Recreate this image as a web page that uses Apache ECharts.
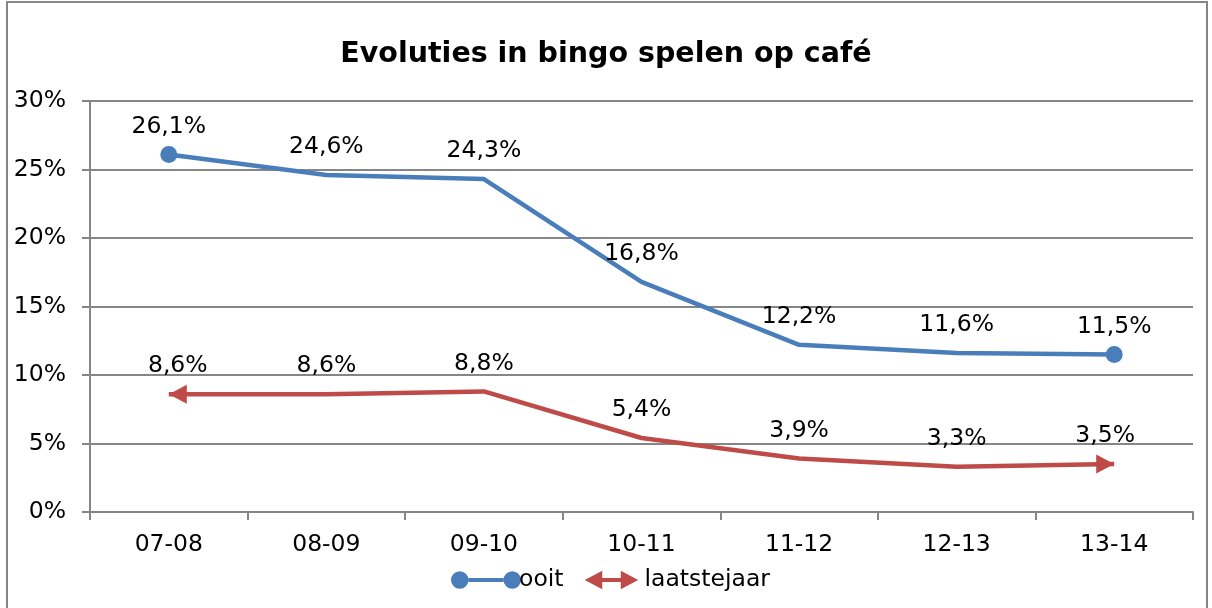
<!DOCTYPE html>
<html>
<head>
<meta charset="utf-8">
<script src="https://cdn.jsdelivr.net/npm/echarts@6/dist/echarts.min.js"></script>
<style>
html,body{margin:0;padding:0;background:#fff;}
#chart{width:1212px;height:608px;}
</style>
</head>
<body>
<div id="chart"></div>
<script>
const titleText = 'Evoluties in bingo spelen op café';
const categories = ['07-08','08-09','09-10','10-11','11-12','12-13','13-14'];
const ooit = [26.1, 24.6, 24.3, 16.8, 12.2, 11.6, 11.5];
const laatstejaar = [8.6, 8.6, 8.8, 5.4, 3.9, 3.3, 3.5];
const seriesNames = ['ooit', 'laatstejaar'];
const yTicks = {min: 0, max: 30, interval: 5};

const FONT = '"DejaVu Sans", Verdana, sans-serif';
const BLUE = '#4a7ebb';
const RED = '#be4b48';
const GRAY = '#868686';
const FS = 23.5;
const fmt = v => String(v).replace('.', ',') + '%';

const LBL_DIST = 16;
const last = categories.length - 1;

function blueData() {
  return ooit.map((v, i) => {
    const end = (i === 0 || i === last);
    return {
      value: v,
      symbol: 'circle',
      symbolSize: end ? 17 : 0,
      label: {distance: end ? LBL_DIST - 8.5 : LBL_DIST}
    };
  });
}
const leftArrow = 'path://M0,5 L10,0 L10,10 Z';
const rightArrow = 'path://M10,5 L0,0 L0,10 Z';
function redData() {
  return laatstejaar.map((v, i) => {
    if (i === 0) return {value: v, symbol: leftArrow, symbolSize: [18, 19], symbolOffset: [9, 0], label: {distance: LBL_DIST - 9.5}};
    if (i === last) return {value: v, symbol: rightArrow, symbolSize: [18, 19], symbolOffset: [-9, 0], label: {distance: LBL_DIST - 9.5}};
    return {value: v, symbol: 'circle', symbolSize: 0, label: {distance: LBL_DIST}};
  });
}

const blueIcon = 'path://M0,9 a8.5,8.5 0 1,1 17,0 a8.5,8.5 0 1,1 -17,0 Z M17,7 L51,7 L51,11 L17,11 Z M51,9 a8.5,8.5 0 1,1 17,0 a8.5,8.5 0 1,1 -17,0 Z';
const redIcon = 'path://M0,0 L0.01,0 Z M68,18 L67.99,18 Z M8,9 L25,0 L25,7 L43,7 L43,0 L60,9 L43,18 L43,11 L25,11 L25,18 Z';

const chart = echarts.init(document.getElementById('chart'), null, {renderer: 'canvas'});
chart.setOption({
  animation: false,
  backgroundColor: '#fff',
  textStyle: {fontFamily: FONT},
  graphic: [{
    type: 'rect', silent: true, z: -1,
    shape: {x: 7, y: 2, width: 1200, height: 620},
    style: {fill: 'none', stroke: GRAY, lineWidth: 2}
  }],
  title: {
    text: titleText, left: 'center', top: 35,
    textStyle: {fontFamily: FONT, fontWeight: 'bold', fontSize: 28.5, color: '#000'}
  },
  legend: {
    data: [
      {name: seriesNames[0], icon: blueIcon, itemStyle: {color: BLUE, borderWidth: 0}},
      {name: seriesNames[1], icon: redIcon, itemStyle: {color: RED, borderWidth: 0}}
    ],
    left: 446, top: 563,
    itemWidth: 70, itemHeight: 19, itemGap: 13,
    textStyle: {fontFamily: FONT, fontSize: FS, color: '#000', padding: [0,0,0,-7]}
  },
  grid: {left: 90, right: 19, top: 101, bottom: 96, containLabel: false},
  xAxis: {
    type: 'category', data: categories, boundaryGap: true,
    axisLine: {show: true, lineStyle: {color: GRAY, width: 2}},
    axisTick: {show: true, length: 8, lineStyle: {color: GRAY, width: 2}},
    axisLabel: {fontFamily: FONT, fontSize: FS, color: '#000', margin: 21},
    splitLine: {show: false}
  },
  yAxis: {
    type: 'value', min: yTicks.min, max: yTicks.max, interval: yTicks.interval,
    axisLine: {show: true, lineStyle: {color: GRAY, width: 2}},
    axisTick: {show: true, length: 8, lineStyle: {color: GRAY, width: 2}},
    axisLabel: {fontFamily: FONT, fontSize: FS, color: '#000', margin: 24, formatter: v => v + '%'},
    splitLine: {show: true, lineStyle: {color: GRAY, width: 2}}
  },
  series: [
    {
      name: seriesNames[0], type: 'line', data: blueData(),
      color: BLUE,
      lineStyle: {color: BLUE, width: 4.5},
      itemStyle: {color: BLUE},
      label: {show: true, position: 'top', fontFamily: FONT, fontSize: FS, color: '#000', formatter: p => fmt(p.value)},
      z: 3
    },
    {
      name: seriesNames[1], type: 'line', data: redData(),
      color: RED,
      lineStyle: {color: RED, width: 4.5, cap: 'butt'},
      itemStyle: {color: RED},
      label: {show: true, position: 'top', fontFamily: FONT, fontSize: FS, color: '#000', formatter: p => fmt(p.value)},
      z: 2
    }
  ]
});
</script>
</body>
</html>
